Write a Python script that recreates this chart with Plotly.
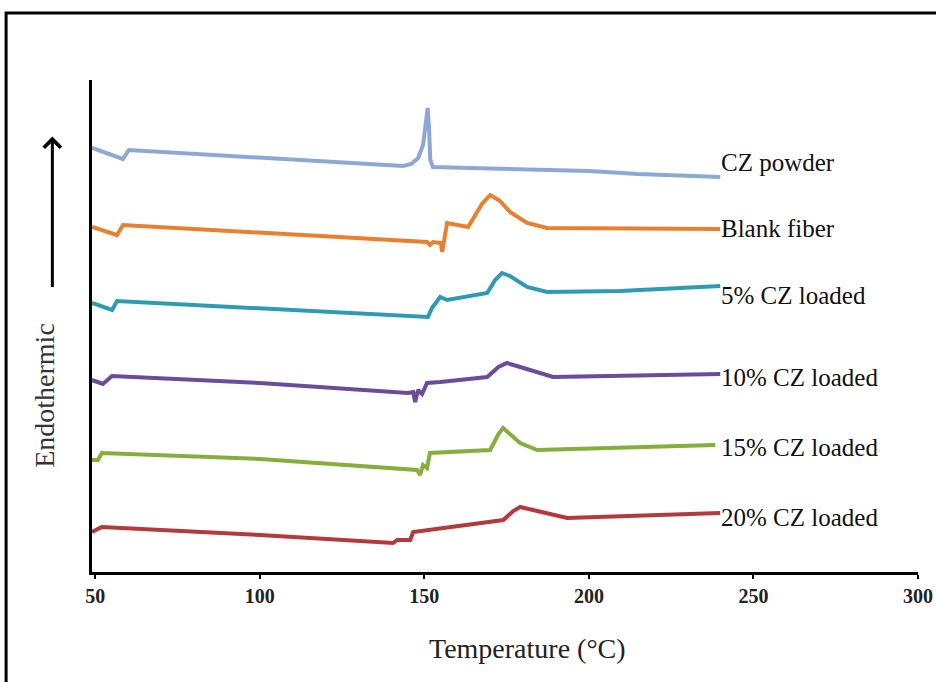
import plotly.graph_objects as go

# Temperature (°C) and heat flow (arbitrary units, stacked curves)
cz_powder_t = [49, 58.4, 60.2, 100, 143.5, 146.0, 148.1, 149.6, 150.5, 151.0, 151.4, 151.8, 152.6, 200, 215, 239.9]
cz_powder_y = [42.4, 41.3, 42.2, 41.4, 40.6, 40.8, 41.4, 42.7, 45.2, 46.4, 44.5, 41.2, 40.5, 40.1, 39.8, 39.5]

blank_t = [49, 56.6, 58.4, 100, 150.8, 151.7, 152.6, 155.0, 155.4, 156.9, 163.3, 167.5, 170.0, 173.0, 176.0, 181.2, 187.3, 239.9]
blank_y = [34.5, 33.7, 34.7, 33.9, 33.0, 32.7, 33.0, 32.9, 32.0, 34.9, 34.5, 36.8, 37.7, 37.1, 36.0, 34.9, 34.4, 34.3]

cz5_t = [49, 55.1, 56.6, 100, 151.1, 152.3, 154.8, 156.9, 169.1, 171.5, 173.6, 176.0, 181.2, 187.3, 209.5, 239.9]
cz5_y = [26.9, 26.2, 27.1, 26.4, 25.5, 26.4, 27.5, 27.2, 27.9, 29.2, 29.9, 29.6, 28.5, 28.0, 28.1, 28.6]

cz10_t = [49, 52.3, 55.1, 100, 145.0, 146.6, 147.2, 148.1, 149.3, 150.8, 154.8, 169.1, 172.5, 175.1, 179.1, 189.1, 239.9]
cz10_y = [19.2, 18.8, 19.6, 18.9, 17.9, 18.0, 17.0, 18.2, 17.8, 18.9, 19.0, 19.5, 20.5, 20.9, 20.5, 19.5, 19.8]

cz15_t = [49, 50.8, 52.0, 100, 147.8, 148.7, 149.6, 150.8, 151.7, 170.0, 172.5, 173.9, 179.1, 184.3, 238.4]
cz15_y = [11.2, 11.2, 11.9, 11.3, 10.2, 9.7, 10.7, 10.4, 11.9, 12.2, 13.8, 14.4, 12.9, 12.2, 12.7]

cz20_t = [49, 52.0, 100, 140.5, 141.7, 145.7, 146.6, 174.0, 177.0, 179.1, 183.0, 193.4, 239.9]
cz20_y = [4.0, 4.5, 3.7, 2.9, 3.2, 3.2, 4.0, 5.2, 6.1, 6.5, 6.2, 5.4, 5.9]

series_names = ["CZ powder", "Blank fiber", "5% CZ loaded", "10% CZ loaded", "15% CZ loaded", "20% CZ loaded"]
series_t = [cz_powder_t, blank_t, cz5_t, cz10_t, cz15_t, cz20_t]
series_y = [cz_powder_y, blank_y, cz5_y, cz10_y, cz15_y, cz20_y]
label_y = [41.0, 34.4, 27.7, 19.5, 12.5, 5.5]
colors = ["#8EA8D6", "#E8802F", "#2F9AB4", "#6A4C9A", "#86AE3E", "#B23A3C"]

x_ticks = [50, 100, 150, 200, 250, 300]
x_title = "Temperature (°C)"
y_title = "Endothermic"

fig = go.Figure()
for name, t, y, c in zip(series_names, series_t, series_y, colors):
    fig.add_trace(go.Scatter(x=t, y=y, mode="lines", name=name,
                             line=dict(color=c, width=4), showlegend=False))

serif = "Liberation Serif, Times New Roman, serif"
for name, ly in zip(series_names, label_y):
    fig.add_annotation(x=239.5, y=ly, xref="x", yref="y", text=name, showarrow=False,
                       xanchor="left", yanchor="middle",
                       font=dict(family=serif, size=25, color="#111111"))

# Endothermic arrow
fig.add_annotation(x=-0.048, y=0.885, xref="paper", yref="paper", ax=0, ay=152,
                   axref="pixel", ayref="pixel", text="", showarrow=True,
                   arrowhead=4, arrowsize=1.1, arrowwidth=3, arrowcolor="#000000")
fig.add_annotation(x=-0.057, y=0.36, xref="paper", yref="paper", text=y_title,
                   showarrow=False, textangle=-90, xanchor="center", yanchor="middle",
                   font=dict(family=serif, size=28, color="#333333"))
# x-axis title (offset to the right as in the original)
fig.add_annotation(x=0.527, y=-0.155, xref="paper", yref="paper", text=x_title,
                   showarrow=False, xanchor="center", yanchor="middle",
                   font=dict(family=serif, size=28, color="#222222"))

# outer frame
fig.add_shape(type="rect", xref="paper", yref="paper", x0=-0.104, x1=1.2, y0=-0.4, y1=1.136,
              line=dict(color="#000000", width=3), fillcolor="rgba(0,0,0,0)", layer="above")

fig.update_layout(
    width=936, height=682,
    margin=dict(l=92, r=18, t=80, b=110, autoexpand=False),
    paper_bgcolor="white", plot_bgcolor="white",
    xaxis=dict(range=[49, 300], tickvals=x_ticks, ticktext=[str(v) for v in x_ticks],
               automargin=False,
               showgrid=False, zeroline=False, showline=True, linecolor="#000000", linewidth=2.5,
               ticks="outside", ticklen=4, tickwidth=1.5, tickcolor="#000000",
               ticklabeloverflow="allow",
               tickfont=dict(family=serif, size=20, color="#222222", weight="bold")),
    yaxis=dict(range=[0, 49.2], showticklabels=False, showgrid=False, zeroline=False,
               automargin=False,
               showline=True, linecolor="#000000", linewidth=2.5, ticks=""),
)

fig.write_html("out.html")
